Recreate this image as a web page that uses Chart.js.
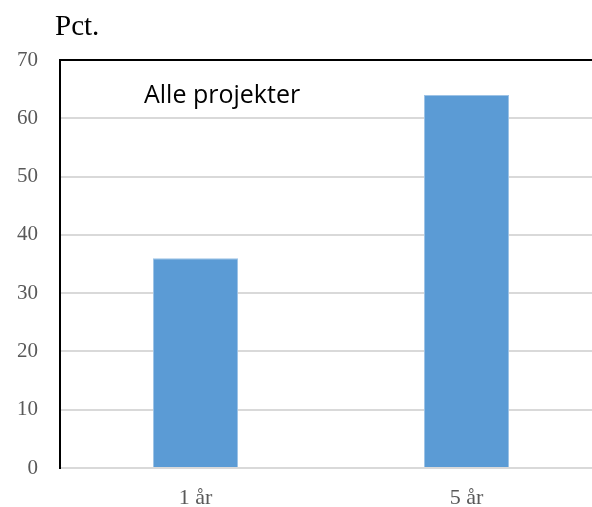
<!DOCTYPE html>
<html>
<head>
<meta charset="utf-8">
<script src="https://cdn.jsdelivr.net/npm/chart.js@4"></script>
<style>
  html, body { margin: 0; padding: 0; background: #fff; overflow: hidden; }
  #wrap { width: 592px; height: 507px; overflow: hidden; }
  #box { width: 602px; height: 507px; }
</style>
</head>
<body>
<div id="wrap"><div id="box"><canvas id="myChart"></canvas></div></div>
<script>
const categories = ["1 år", "5 år"];
const values = [36, 64];
const yTicks = [0, 10, 20, 30, 40, 50, 60, 70];
const unitLabel = "Pct.";
const panelLabel = "Alle projekter";

// tekst og øverste ramme
const extras = {
  id: "extras",
  afterDraw(chart) {
    const ctx = chart.ctx;
    const a = chart.chartArea;
    ctx.save();
    ctx.strokeStyle = "#000";
    ctx.lineWidth = 2;
    ctx.beginPath();
    ctx.moveTo(a.left - 1, a.top);
    ctx.lineTo(chart.width, a.top);
    ctx.stroke();
    ctx.fillStyle = "#000";
    ctx.textBaseline = "alphabetic";
    ctx.font = "29px 'Liberation Serif'";
    ctx.fillText(unitLabel, 55, 35);
    ctx.font = "25px 'Open Sans'";
    ctx.fillText(panelLabel, 144, 103);
    ctx.restore();
  },
};

var ctx = document.getElementById("myChart");
var myChart = new Chart(ctx, {
  type: "bar",
  data: {
    labels: categories,
    datasets: [
      {
        data: values,
        backgroundColor: "#5B9BD5",
        borderColor: "#9DC3E6",
        borderWidth: 1,
        categoryPercentage: 1,
        barPercentage: 0.314,
      },
    ],
  },
  options: {
    responsive: true,
    maintainAspectRatio: false,
    animation: false,
    layout: { padding: { top: 60, left: 0, right: 0, bottom: 0 } },
    plugins: {
      legend: { display: false },
      tooltip: { enabled: false },
    },
    scales: {
      x: {
        grid: { display: false, drawTicks: false },
        border: { color: "#D9D9D9", width: 2 },
        ticks: {
          color: "#595959",
          font: { family: "Liberation Serif", size: 22 },
          padding: 17,
        },
        afterFit(scale) { scale.height = 39; },
      },
      y: {
        min: 0,
        max: 70,
        afterBuildTicks(scale) { scale.ticks = yTicks.map(v => ({ value: v })); },
        grid: { color: "#D9D9D9", lineWidth: 2, drawTicks: false },
        border: { color: "#000", width: 2 },
        ticks: {
          color: "#595959",
          font: { family: "Liberation Serif", size: 21 },
          padding: 22,
        },
        afterFit(scale) { scale.width = 60; },
      },
    },
  },
  plugins: [extras],
});
</script>
</body>
</html>
